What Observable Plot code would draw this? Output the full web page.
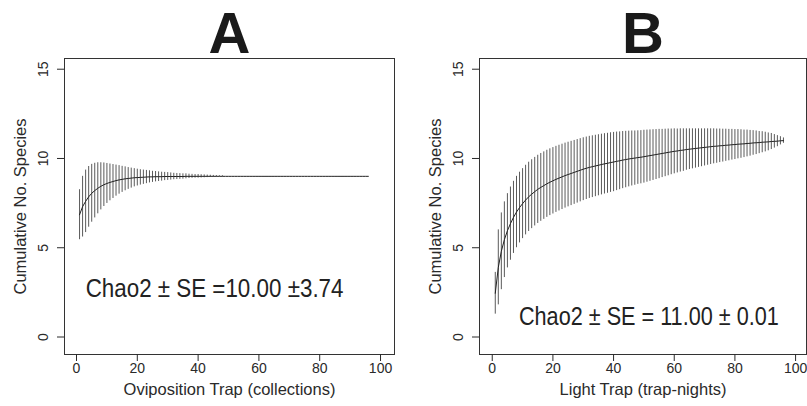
<!DOCTYPE html>
<html>
<head>
<meta charset="utf-8">
<script src="https://cdn.jsdelivr.net/npm/d3@7"></script>
<script src="https://cdn.jsdelivr.net/npm/@observablehq/plot@0.6"></script>
<style>
  html, body { margin: 0; padding: 0; background: #fff; }
  #wrap { position: relative; width: 807px; height: 406px; overflow: hidden; background: #fff; }
  .panel { position: absolute; top: 0; }
</style>
</head>
<body>
<div id="wrap">
  <div id="pa" class="panel" style="left:0px"></div>
  <div id="pb" class="panel" style="left:400px"></div>
</div>
<script>
// ---- data ----
const samples = [1,2,3,4,5,6,7,8,9,10,11,12,13,14,15,16,17,18,19,20,21,22,23,24,25,26,27,28,29,30,31,32,33,34,35,36,37,38,39,40,41,42,43,44,45,46,47,48,49,50,51,52,53,54,55,56,57,58,59,60,61,62,63,64,65,66,67,68,69,70,71,72,73,74,75,76,77,78,79,80,81,82,83,84,85,86,87,88,89,90,91,92,93,94,95,96];

// Panel A: oviposition trap, cumulative species (mean) and SD
const meanA = [6.85,7.3,7.6,7.85,8.05,8.2,8.33,8.44,8.53,8.6, 8.66,8.71,8.76,8.8,8.83,8.86,8.88,8.9,8.92,8.93, 8.94,8.95,8.96,8.97,8.97,8.98,8.98,8.98,8.99,8.99, 8.99,8.99,8.99,8.99,8.99,9,9,9,9,9, 9,9,9,9,9,9,9,9,9,9, 9,9,9,9,9,9,9,9,9,9, 9,9,9,9,9,9,9,9,9,9, 9,9,9,9,9,9,9,9,9,9, 9,9,9,9,9,9,9,9,9,9, 9,9,9,9,9,9];
const sdA = [1.4,1.7,1.75,1.7,1.62,1.53,1.43,1.32,1.22,1.12, 1.03,0.95,0.87,0.8,0.73,0.67,0.61,0.56,0.51,0.47, 0.43,0.4,0.37,0.34,0.31,0.29,0.27,0.25,0.23,0.22, 0.2,0.18,0.17,0.16,0.15,0.14,0.12,0.11,0.1,0.1, 0.09,0.08,0.07,0.06,0.05,0.04,0.03,0.03,0,0, 0,0,0,0,0,0,0,0,0,0, 0,0,0,0,0,0,0,0,0,0, 0,0,0,0,0,0,0,0,0,0, 0,0,0,0,0,0,0,0,0,0, 0,0,0,0,0,0];

// Panel B: light trap
const meanB = [2.45,3.9,4.8,5.45,5.95,6.35,6.7,7.0,7.25,7.47, 7.67,7.85,8.0,8.14,8.27,8.38,8.48,8.58,8.67,8.75, 8.83,8.9,8.97,9.04,9.1,9.16,9.22,9.28,9.34,9.4, 9.45,9.5,9.54,9.58,9.62,9.66,9.7,9.73,9.77,9.8, 9.84,9.87,9.91,9.94,9.97,10.0,10.02,10.05,10.07,10.1, 10.13,10.16,10.19,10.22,10.25,10.28,10.31,10.34,10.37,10.4, 10.42,10.45,10.47,10.5,10.52,10.54,10.56,10.58,10.6,10.62, 10.64,10.66,10.68,10.69,10.71,10.72,10.74,10.75,10.77,10.78, 10.8,10.81,10.82,10.84,10.85,10.87,10.88,10.89,10.91,10.92, 10.93,10.95,10.96,10.97,10.99,11.0];
const sdB = [1.17,2.1,2.15,2.12,2.08,2.05,2.02,2.0,1.98,1.96, 1.95,1.94,1.93,1.92,1.91,1.9,1.89,1.88,1.87,1.86, 1.85,1.84,1.83,1.82,1.81,1.8,1.79,1.78,1.77,1.76, 1.75,1.74,1.73,1.72,1.71,1.7,1.69,1.68,1.67,1.66, 1.64,1.62,1.6,1.58,1.56,1.54,1.52,1.5,1.49,1.48, 1.46,1.44,1.42,1.4,1.38,1.35,1.33,1.31,1.28,1.26, 1.23,1.21,1.19,1.16,1.14,1.12,1.1,1.08,1.06,1.04, 1.02,1.0,0.98,0.96,0.94,0.92,0.9,0.88,0.86,0.84, 0.82,0.8,0.77,0.75,0.72,0.69,0.66,0.62,0.59,0.55, 0.5,0.45,0.38,0.31,0.23,0.15];

const xTicks = [0, 20, 40, 60, 80, 100];
const yTicks = [0, 5, 10, 15];
const titles = ["A", "B"];
const xLabels = ["Oviposition Trap (collections)", "Light Trap (trap-nights)"];
const yLabel = "Cumulative No. Species";
const notes = ["Chao2 \u00b1 SE =10.00 \u00b13.74", "Chao2 \u00b1 SE = 11.00 \u00b1 0.01"];

// ---- drawing ----
const FONT = "'Liberation Sans', Arial, Helvetica, sans-serif";

function panel({mean, sd, title, xLabel, note, noteX, noteY, width, marginLeft, marginRight, xDomain}) {
  const rows = samples.map((s, i) => ({s, m: mean[i], e: sd[i]}));
  return Plot.plot({
    width, height: 406,
    marginLeft, marginRight, marginTop: 58, marginBottom: 52,
    x: {domain: xDomain},
    y: {domain: [-0.98, 15.6]},
    style: {fontFamily: FONT, fontSize: "14px", color: "#2a2a2a", background: "transparent"},
    marks: [
      Plot.ruleX(rows.filter(d => d.e > 0), {x: "s", y1: d => d.m - d.e, y2: d => d.m + d.e, stroke: "#5a5a5a", strokeWidth: 1}),
      Plot.line(rows, {x: "s", y: "m", stroke: "#222", strokeWidth: 1}),
      Plot.frame({stroke: "#333", strokeWidth: 1}),
      Plot.axisX({ticks: xTicks, tickSize: 7, tickPadding: 2, tickFormat: d3.format("d"),
                  label: xLabel, labelAnchor: "center", labelOffset: 40, labelArrow: "none", fontSize: 14}),
      Plot.axisY({ticks: yTicks, tickSize: 7, tickRotate: -90, tickPadding: 10, tickFormat: d3.format("d"),
                  label: yLabel, labelAnchor: "center", labelOffset: 50, labelArrow: "none", fontSize: 14}),
      Plot.text([title], {frameAnchor: "top", text: d => d, lineAnchor: "middle", dy: -24,
                 fontSize: 58, fontWeight: "bold", fill: "#1a1a1a"}),
      Plot.text([note], {x: noteX, y: noteY, text: d => d, textAnchor: "start", lineAnchor: "middle",
                 fontSize: 25, fill: "#222"})
    ]
  });
}

function finish(svg, note, noteWidth) {
  // annotation drawn in a condensed face, like the original (horizontal squeeze only)
  svg.querySelectorAll("text").forEach(t => {
    if (t.textContent !== note) return;
    const natural = t.getComputedTextLength();
    const k = noteWidth / natural;
    const tr = t.getAttribute("transform") || "";
    t.setAttribute("transform", `${tr} scale(${k.toFixed(4)},1)`);
  });
  svg.querySelectorAll("g[aria-label='x-axis label'] text, g[aria-label='y-axis label'] text")
     .forEach(t => t.setAttribute("font-size", "16.5"));
}

const svgA = panel({mean: meanA, sd: sdA, title: titles[0], xLabel: xLabels[0], note: notes[0], noteX: 3.0, noteY: 2.69,
                    width: 400, marginLeft: 64, marginRight: 6, xDomain: [-3.95, 104.6]});
const svgB = panel({mean: meanB, sd: sdB, title: titles[1], xLabel: xLabels[1], note: notes[1], noteX: 8.8, noteY: 1.1,
                    width: 407, marginLeft: 79, marginRight: 1, xDomain: [-4.2, 103.6]});
document.getElementById("pa").appendChild(svgA);
document.getElementById("pb").appendChild(svgB);
finish(svgA, notes[0], 258);
finish(svgB, notes[1], 260);
</script>
</body>
</html>
